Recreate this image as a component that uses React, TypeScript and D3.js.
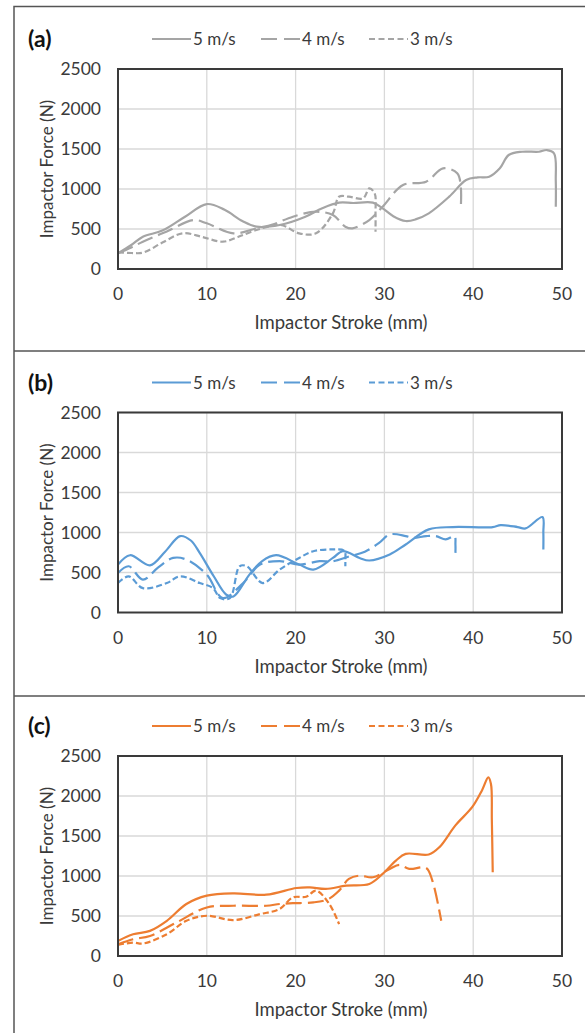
import React, { useEffect, useRef } from "react";
import * as d3 from "d3";

// [stroke mm, force N]
const panelA5 = [[0,196],[1.5,300],[2.8,404],[5,480],[7.5,650],[10,812],[12,740],[14,600],[15.6,529],[18.2,550],[21.1,654],[23,760],[24.9,829],[26.5,825],[28.7,829],[29.8,758],[31,660],[32.4,600],[33.5,620],[35,696],[37.3,904],[39.2,1112],[40.5,1145],[41.8,1154],[43,1260],[44,1425],[45.5,1466],[47.4,1466],[48.3,1487],[49.1,1446],[49.3,1100],[49.3,779]];
const panelA4 = [[0,196],[1.5,270],[2.8,341],[5.5,470],[8.5,612],[10,571],[13,446],[15.6,508],[17.5,560],[19.7,654],[22.3,716],[24.2,675],[25.6,529],[26.4,508],[28.3,612],[29.8,779],[32.1,1050],[34.7,1091],[36.6,1258],[38.2,1196],[38.6,1029],[38.6,758]];
const panelA3 = [[0,208],[1.5,200],[2.8,204],[5,330],[7.3,446],[9.5,400],[11.8,341],[13.5,400],[15.6,488],[18.3,550],[20.4,446],[22.3,446],[24.2,696],[24.9,904],[26,904],[27.6,883],[28.3,1008],[28.9,946],[29,700],[29,467]];

const panelB5 = [[0,599],[1.35,716],[3.6,590],[5.3,760],[7,955],[8.2,900],[9.2,745],[10.8,450],[12.2,222],[13,201],[14.8,474],[16.2,640],[17.8,716],[20.4,599],[22,536],[24.2,682],[25.3,766],[27.2,682],[28.3,650],[30.6,725],[32.4,850],[35,1039],[37.7,1068],[42.2,1068],[43.1,1093],[45,1068],[45.9,1051],[47.8,1193],[47.9,1000],[47.9,788]];
const panelB4 = [[0,494],[1.2,578],[2.8,411],[4.5,560],[6.2,682],[7.7,662],[10,474],[11.8,180],[14.1,368],[16,599],[18.2,641],[20.4,599],[22.7,641],[24.2,641],[26,700],[27.8,760],[29.4,870],[30.6,976],[32.4,955],[33.2,933],[34.7,955],[35.8,955],[36.9,913],[37.9,955],[38,850],[38,745]];
const panelB3 = [[0,368],[1.2,452],[2.8,305],[5.5,368],[7,452],[9.2,368],[10.7,305],[11.5,180],[12.6,180],[13.7,578],[14.5,578],[16.3,368],[18.2,536],[20.4,682],[22,766],[24.2,788],[25.5,770],[25.6,650],[25.6,578]];

const panelC5 = [[0,188],[1.7,272],[3.6,314],[5.5,440],[7.7,650],[10,754],[13,783],[16.7,766],[20.1,850],[21.6,858],[23.4,838],[25.7,880],[28.3,901],[29.8,1026],[31.3,1193],[32.4,1277],[35,1269],[36.2,1361],[38,1633],[39.9,1863],[41,2073],[41.7,2232],[42,2150],[42.1,1700],[42.2,1047]];
const panelC4 = [[0,147],[1.7,210],[3.6,251],[6.6,419],[10,607],[13,628],[16.7,628],[18.2,650],[19.7,660],[22,670],[23.7,712],[24.9,817],[26,963],[27.2,1005],[28.7,984],[30.6,1089],[31.7,1139],[32.8,1089],[34.7,1101],[35.4,942],[36.4,440]];
const panelC3 = [[0,140],[1.7,167],[2.8,155],[5.5,272],[7.7,440],[10,503],[13,448],[16,524],[18.2,587],[19.7,733],[21.2,741],[22.3,817],[23.8,650],[24.9,398]];

const speeds = ["5 m/s", "4 m/s", "3 m/s"];
const dashes = [null, "16,6", "6,3"];
const xTicks = [0, 10, 20, 30, 40, 50];
const yTicks = [0, 500, 1000, 1500, 2000, 2500];

const panels = [
  { label: "(a)", color: "#a5a5a5", series: [panelA5, panelA4, panelA3] },
  { label: "(b)", color: "#5b9bd5", series: [panelB5, panelB4, panelB3] },
  { label: "(c)", color: "#ed7d31", series: [panelC5, panelC4, panelC3] },
];

const W = 585, H = 1033;
const PANEL_H = 343.5;
const FONT = "Lato, 'Open Sans', sans-serif";
const TEXT = "#3a3a3a";

function drawFigure(svgEl) {
  const svg = d3.select(svgEl);
  svg.selectAll("*").remove();

  // outer frame + dividers
  svg.append("path")
    .attr("d", `M${W + 2},6.5 H14 V${H + 2}`)
    .attr("fill", "none").attr("stroke", "#555").attr("stroke-width", 1.5);
  [351, 696].forEach((yy) => {
    svg.append("line").attr("x1", 14).attr("x2", W + 2).attr("y1", yy).attr("y2", yy)
      .attr("stroke", "#555").attr("stroke-width", 1.5);
  });

  const x = d3.scaleLinear().domain([0, 50]).range([118, 562]);
  const y = d3.scaleLinear().domain([0, 2500]).range([269, 69]);

  panels.forEach((p, i) => {
    const g = svg.append("g").attr("transform", `translate(0,${i * PANEL_H})`);

    g.append("text").attr("x", 28).attr("y", 47).text(p.label)
      .attr("font-family", FONT).attr("font-weight", "bold").attr("font-size", 23).attr("fill", "#111");

    // legend
    const legendX = [152, 261, 369];
    speeds.forEach((s, k) => {
      const lx = legendX[k];
      g.append("line").attr("x1", lx).attr("x2", lx + 39).attr("y1", 39).attr("y2", 39)
        .attr("stroke", p.color).attr("stroke-width", 2.2)
        .attr("stroke-dasharray", dashes[k] ? (k === 1 ? "16,7" : "6,3.5") : null);
      g.append("text").attr("x", lx + 41).attr("y", 45).text(s)
        .attr("font-family", FONT).attr("font-size", 17).attr("fill", TEXT);
    });

    // grid
    g.append("g").selectAll("line.h").data(yTicks.slice(1)).enter().append("line")
      .attr("x1", x(0)).attr("x2", x(50)).attr("y1", (d) => y(d)).attr("y2", (d) => y(d))
      .attr("stroke", "#d9d9d9").attr("stroke-width", 1.3);
    g.append("g").selectAll("line.v").data(xTicks.slice(1, -1)).enter().append("line")
      .attr("x1", (d) => x(d)).attr("x2", (d) => x(d)).attr("y1", y(0)).attr("y2", y(2500))
      .attr("stroke", "#d9d9d9").attr("stroke-width", 1.3);

    // series
    const line = d3.line()
      .x((d) => x(d[0]))
      .y((d) => y(d[1]))
      .curve(d3.curveCatmullRom.alpha(0.5));
    p.series.forEach((data, k) => {
      g.append("path").datum(data)
        .attr("d", line)
        .attr("fill", "none")
        .attr("stroke", p.color)
        .attr("stroke-width", 2.2)
        .attr("stroke-linejoin", "round")
        .attr("stroke-dasharray", dashes[k]);
    });

    // plot border
    g.append("rect").attr("x", x(0)).attr("y", y(2500))
      .attr("width", x(50) - x(0)).attr("height", y(0) - y(2500))
      .attr("fill", "none").attr("stroke", "#3a3a3a").attr("stroke-width", 2);

    // tick labels
    g.append("g").selectAll("text").data(yTicks).enter().append("text")
      .attr("x", 101).attr("y", (d) => y(d) + 6).attr("text-anchor", "end")
      .text((d) => d)
      .attr("font-family", FONT).attr("font-size", 17.5).attr("fill", TEXT);
    g.append("g").selectAll("text").data(xTicks).enter().append("text")
      .attr("x", (d) => x(d)).attr("y", 300).attr("text-anchor", "middle")
      .text((d) => d)
      .attr("font-family", FONT).attr("font-size", 17.5).attr("fill", TEXT);

    // axis titles
    g.append("text").attr("x", 341).attr("y", 329).attr("text-anchor", "middle")
      .text("Impactor Stroke (mm)")
      .attr("font-family", FONT).attr("font-size", 18.5).attr("fill", TEXT);
    g.append("text")
      .attr("transform", `translate(53,${(y(0) + y(2500)) / 2}) rotate(-90)`)
      .attr("text-anchor", "middle")
      .text("Impactor Force (N)")
      .attr("font-family", FONT).attr("font-size", 17).attr("fill", TEXT);
  });
}

export default function App() {
  const ref = useRef(null);
  useEffect(() => {
    document.body.style.margin = "0";
    drawFigure(ref.current);
  }, []);
  return <svg ref={ref} width={W} height={H} style={{ display: "block", background: "#fff" }} />;
}
